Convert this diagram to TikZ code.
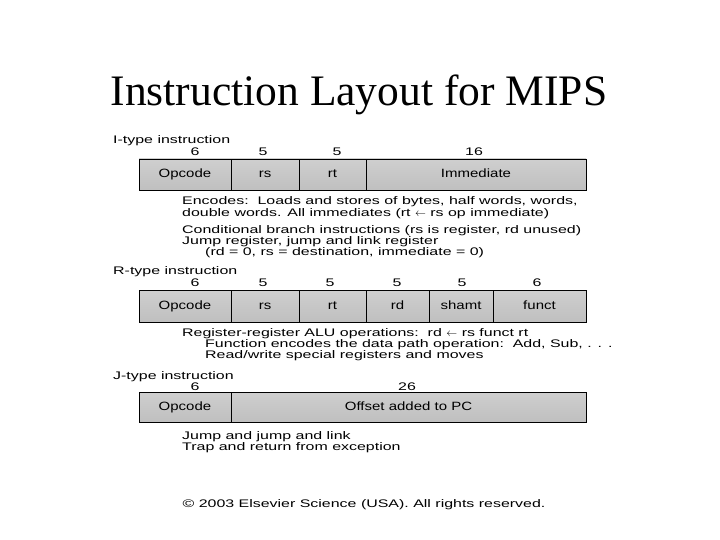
\documentclass[tikz,border=0pt]{standalone}
\usepackage{fontspec}
\setmainfont{Liberation Serif}
\newfontfamily\labfont[FakeStretch=1.45]{Liberation Sans}
\newfontfamily\fieldfont[FakeStretch=1.25]{Liberation Sans}
\newcommand{\indentby}{\hspace*{23pt}}
\begin{document}
\begin{tikzpicture}[x=1pt,y=-1pt,
  field/.style={draw=black, line width=0.7pt, top color=gray!38, middle color=gray!12, bottom color=gray!50, inner sep=0pt, text height=8.5pt, text depth=2.5pt, font=\fieldfont\fontsize{12}{14}\selectfont},
  small/.style={inner sep=0pt, font=\labfont\fontsize{11}{11}\selectfont},
  txt/.style={small, anchor=west, align=left},
  num/.style={small}]
\useasboundingbox (0,0) rectangle (720,540);
\node[font=\fontsize{43.5}{50}\selectfont, inner sep=0pt] (title) at (359,95) {Instruction Layout for MIPS};

% I-type
\node[txt] (ilab) at (113,141) {I-type instruction};
\node[num] (in1) at (195,152) {6};
\node[num] (in2) at (263,152) {5};
\node[num] (in3) at (337,152) {5};
\node[num] (in4) at (474,152) {16};
\node[field, minimum width=92, minimum height=31] (iop) at (185,174.5) {Opcode};
\node[field, minimum width=68, minimum height=31] (irs) at (265,174.5) {rs};
\node[field, minimum width=67, minimum height=31] (irt) at (332.5,174.5) {rt};
\node[field, minimum width=220, minimum height=31] (iimm) at (476,174.5) {Immediate};
\node[txt, font=\labfont\fontsize{11}{12}\selectfont] (itA) at (182,207.5) {Encodes:\ \ Loads and stores of bytes, half words, words,\\double words. All immediates (rt $\leftarrow$ rs op immediate)};
\node[txt] (itB) at (182,242) {Conditional branch instructions (rs is register, rd unused)\\Jump register, jump and link register\\\indentby(rd = 0, rs = destination, immediate = 0)};

% R-type
\node[txt] (rlab) at (113,272) {R-type instruction};
\node[num] (rn1) at (195,283) {6};
\node[num] (rn2) at (263,283) {5};
\node[num] (rn3) at (330,283) {5};
\node[num] (rn4) at (397,283) {5};
\node[num] (rn5) at (462,283) {5};
\node[num] (rn6) at (537,283) {6};
\node[field, minimum width=92, minimum height=32] (rop) at (185,306) {Opcode};
\node[field, minimum width=68, minimum height=32] (rrs) at (265,306) {rs};
\node[field, minimum width=67, minimum height=32] (rrt) at (332.5,306) {rt};
\node[field, minimum width=63, minimum height=32] (rrd) at (397.5,306) {rd};
\node[field, minimum width=64, minimum height=32] (rsh) at (461,306) {shamt};
\node[field, minimum width=93, minimum height=32] (rfn) at (539.5,306) {funct};
\node[txt] (rtA) at (182,345) {Register-register ALU operations:\ \ rd $\leftarrow$ rs funct rt\\\indentby Function encodes the data path operation:\ \ Add, Sub, . . .\\\indentby Read/write special registers and moves};

% J-type
\node[txt] (jlab) at (113,377) {J-type instruction};
\node[num] (jn1) at (195,387) {6};
\node[num] (jn2) at (407,387) {26};
\node[field, minimum width=92, minimum height=30] (jop) at (185,407) {Opcode};
\node[field, minimum width=355, minimum height=30] (joff) at (408.5,407) {Offset added to PC};
\node[txt] (jtA) at (182,442.5) {Jump and jump and link\\Trap and return from exception};

\node[small] (copy) at (364,505) {© 2003 Elsevier Science (USA). All rights reserved.};
\end{tikzpicture}
\end{document}
